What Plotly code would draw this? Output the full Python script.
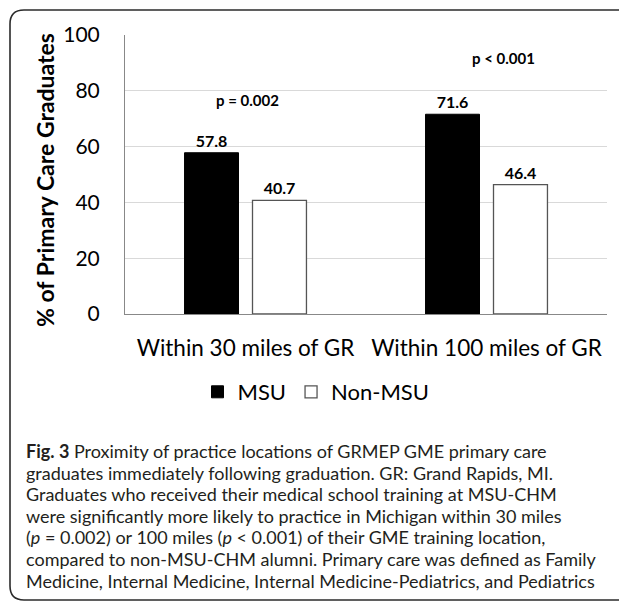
import plotly.graph_objects as go

categories = ["Within 30 miles of GR", "Within 100 miles of GR"]
msu_values = [57.8, 71.6]
non_msu_values = [40.7, 46.4]
p_labels = ["p = 0.002", "p < 0.001"]
y_ticks = [0, 20, 40, 60, 80, 100]
caption_lines = [
    "<b>Fig. 3</b> Proximity of practice locations of GRMEP GME primary care",
    "graduates immediately following graduation. GR: Grand Rapids, MI.",
    "Graduates who received their medical school training at MSU-CHM",
    "were significantly more likely to practice in Michigan within 30 miles",
    "(<i>p</i> = 0.002) or 100 miles (<i>p</i> &lt; 0.001) of their GME training location,",
    "compared to non-MSU-CHM alumni. Primary care was defined as Family",
    "Medicine, Internal Medicine, Internal Medicine-Pediatrics, and Pediatrics",
]

W, H = 619, 605
L, R, T, B = 125, 607, 35, 314

def X(px):
    return (px - L) / (R - L)

def Y(py):
    return (B - py) / (B - T)

CHART_FONT = "Lato"
CAP_FONT = "Lato"

fig = go.Figure()
fig.add_trace(go.Bar(
    name="MSU", x=categories, y=msu_values,
    marker=dict(color="black", line=dict(color="black", width=1)),
    texttemplate="<b>%{y}</b>", textposition="outside",
    textfont=dict(size=16, color="black", family=CHART_FONT),
    cliponaxis=False,
))
fig.add_trace(go.Bar(
    name="Non-MSU", x=categories, y=non_msu_values,
    marker=dict(color="white", line=dict(color="#555555", width=1.3)),
    texttemplate="<b>%{y}</b>", textposition="outside",
    textfont=dict(size=16, color="black", family=CHART_FONT),
    cliponaxis=False,
))

annotations = []
annotations.append(dict(x=0.01, y=76.7, xref="x", yref="y", text="<b>" + p_labels[0] + "</b>",
                        showarrow=False, font=dict(size=15, family=CHART_FONT, color="black")))
annotations.append(dict(x=1.07, y=91.8, xref="x", yref="y", text="<b>" + p_labels[1] + "</b>",
                        showarrow=False, font=dict(size=15, family=CHART_FONT, color="black")))
annotations.append(dict(x=X(45), y=Y(180), xref="paper", yref="paper",
                        xanchor="center", yanchor="middle",
                        text="<b>% of Primary Care Graduates</b>", textangle=-90,
                        showarrow=False, font=dict(size=23, family=CHART_FONT, color="black")))
cap_y0, cap_dy = 451, 21.6
for i, line in enumerate(caption_lines):
    annotations.append(dict(x=X(25), y=Y(cap_y0 + i * cap_dy), xref="paper", yref="paper",
                            xanchor="left", yanchor="middle", text=line, showarrow=False,
                            borderpad=0,
                            font=dict(size=18.0, family=CAP_FONT, color="#231f20")))

r = 14
path = (f"M {X(640)},{Y(10)} L {X(10 + r)},{Y(10)} Q {X(10)},{Y(10)} {X(10)},{Y(10 + r)} "
        f"L {X(10)},{Y(600 - r)} Q {X(10)},{Y(600)} {X(10 + r)},{Y(600)} L {X(640)},{Y(600)}")

fig.update_layout(
    width=W, height=H,
    margin=dict(l=L, r=W - R, t=T, b=H - B),
    paper_bgcolor="white", plot_bgcolor="white",
    barmode="group", bargap=0.436, bargroupgap=0.206,
    showlegend=True,
    legend=dict(orientation="h", x=X(316), xanchor="center", y=Y(392), yanchor="middle",
                font=dict(size=22, family=CHART_FONT, color="black"), traceorder="normal",
                itemwidth=30),
    annotations=annotations,
    shapes=[dict(type="path", path=path, xref="paper", yref="paper",
                 line=dict(color="#2b2b2b", width=1.6))],
    xaxis=dict(showline=True, linecolor="#888888", linewidth=1.3, ticks="",
               tickfont=dict(size=22.5, family=CHART_FONT, color="black"),
               ticklabelstandoff=14),
    yaxis=dict(range=[0, 100], tickvals=y_ticks, showgrid=True, gridcolor="#d9d9d9",
               gridwidth=1, showline=True, linecolor="#888888", linewidth=1,
               zeroline=False, ticks="",
               tickfont=dict(size=21, family=CHART_FONT, color="black"),
               ticklabelstandoff=20),
)

fig.write_html("out.html", config={"displayModeBar": False},
               post_script="document.body.style.margin='0px';document.body.style.overflow='hidden';")
